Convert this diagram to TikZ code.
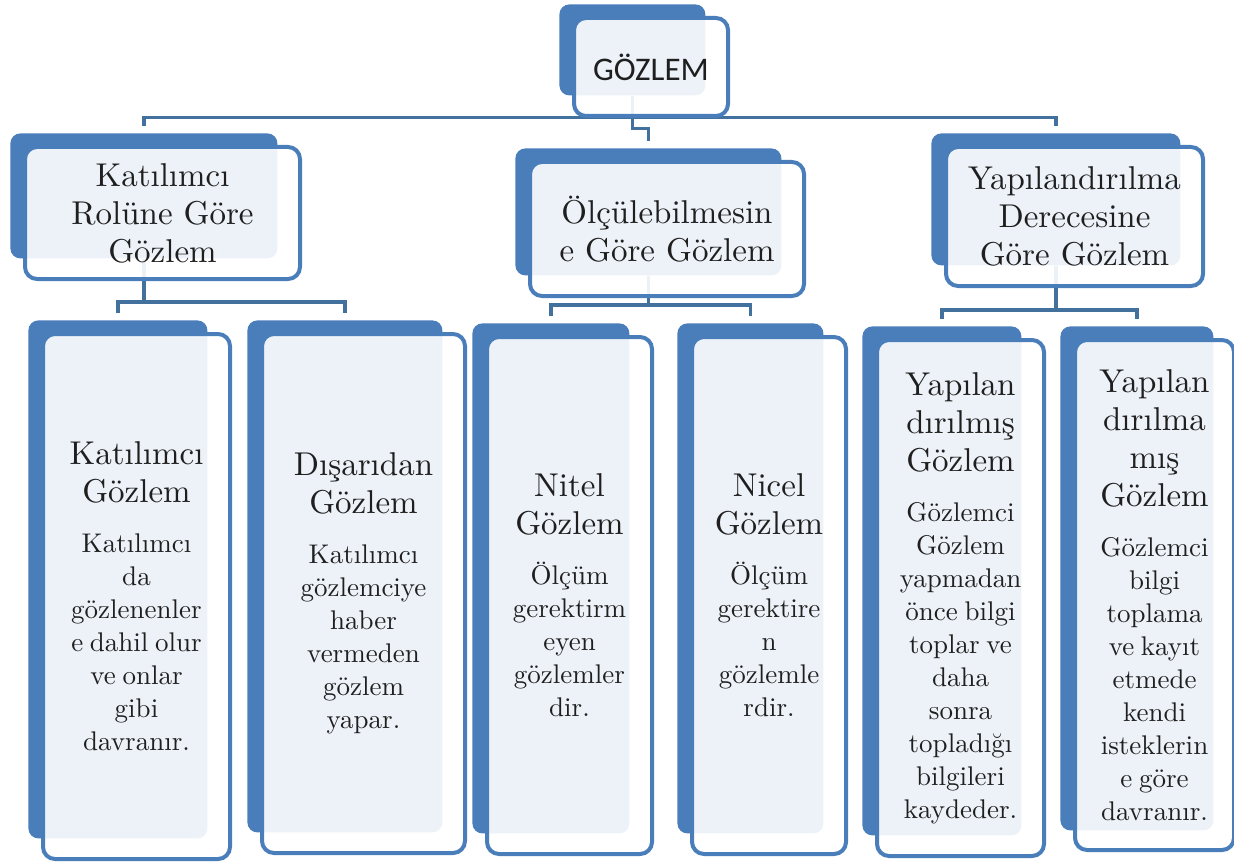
\documentclass[tikz,border=0pt]{standalone}
\usepackage{fontspec}
\setmainfont{lmroman10-regular}[Extension=.otf]
\newfontfamily\calibri{Carlito}
\usetikzlibrary{positioning, calc}
\definecolor{boxblue}{HTML}{4A7EBB}
\definecolor{linkblue}{HTML}{41719C}
\colorlet{ink}{black!88}
\pgfdeclarelayer{bg}
\pgfsetlayers{bg,main}
\tikzset{
  backbox/.style={fill=boxblue, rounded corners=5pt, inner sep=0pt, anchor=north west},
  frontbox/.style={draw=boxblue, line width=2pt, fill=white, fill opacity=0.9, text opacity=1,
    text=ink, rounded corners=6pt, inner sep=0pt, anchor=north west, align=center},
  link/.style={draw=linkblue, line width=1.7pt},
}
\newcommand{\gtitle}[1]{{\fontsize{16.5}{19}\selectfont #1\par}}
\newcommand{\gbody}[1]{\vspace{8.5pt}{\fontsize{13.5}{16.5}\selectfont #1\par}}

\begin{document}
\begin{tikzpicture}[x=0.5pt, y=-0.5pt]
  \useasboundingbox (0,0) rectangle (1234,866);

  % root
  \node[backbox, minimum width=73pt, minimum height=45.5pt] (top-b) at (559,4) {};
  \node[frontbox, minimum width=77pt, minimum height=49pt, font=\calibri\fontsize{16.5}{19}\selectfont]
    (top) at ([shift={(13,12)}]top-b.north west) {GÖZLEM};

  % second row
  \node[backbox, minimum width=133.5pt, minimum height=62.5pt] (kat-b) at (10,133) {};
  \node[frontbox, minimum width=137.5pt, minimum height=66pt, text width=131pt, font=\fontsize{16.5}{19}\selectfont]
    (kat) at ([shift={(13,12)}]kat-b.north west) {Katılımcı\\Rolüne Göre\\Gözlem};
  \node[backbox, minimum width=133pt, minimum height=63.5pt] (olc-b) at (515,148) {};
  \node[frontbox, minimum width=137pt, minimum height=67pt, text width=131pt, font=\fontsize{16.5}{19}\selectfont]
    (olc) at ([shift={(13,12)}]olc-b.north west) {Ölçülebilmesin\\e Göre Gözlem};
  \node[backbox, minimum width=124.5pt, minimum height=66pt] (yap-b) at (931,133) {};
  \node[frontbox, minimum width=128.5pt, minimum height=69.5pt, text width=125pt, font=\fontsize{16.5}{19}\selectfont]
    (yap) at ([shift={(13,12)}]yap-b.north west) {Yapılandırılma\\Derecesine\\Göre Gözlem};

  % third row
  \node[backbox, minimum width=89.5pt, minimum height=259pt] (katg-b) at (28,320) {};
  \node[frontbox, minimum width=93.5pt, minimum height=262.5pt, text width=88pt]
    (katg) at ([shift={(13,12)}]katg-b.north west)
    {\gtitle{Katılımcı\\Gözlem}\gbody{Katılımcı\\da\\gözlenenler\\e dahil olur\\ve onlar\\gibi\\davranır.}};
  \node[backbox, minimum width=97.5pt, minimum height=256pt] (disg-b) at (247,320) {};
  \node[frontbox, minimum width=101.5pt, minimum height=259.5pt, text width=96pt]
    (disg) at ([shift={(13,12)}]disg-b.north west)
    {\gtitle{Dışarıdan\\Gözlem}\gbody{Katılımcı\\gözlemciye\\haber\\vermeden\\gözlem\\yapar.}};
  \node[backbox, minimum width=78.5pt, minimum height=255pt] (nitg-b) at (472,323) {};
  \node[frontbox, minimum width=82.5pt, minimum height=258.5pt, text width=78pt]
    (nitg) at ([shift={(13,12)}]nitg-b.north west)
    {\gtitle{Nitel\\Gözlem}\gbody{Ölçüm\\gerektirm\\eyen\\gözlemler\\dir.}};
  \node[backbox, minimum width=73pt, minimum height=255pt] (nicg-b) at (677,323) {};
  \node[frontbox, minimum width=77pt, minimum height=258.5pt, text width=73pt]
    (nicg) at ([shift={(13,12)}]nicg-b.north west)
    {\gtitle{Nicel\\Gözlem}\gbody{Ölçüm\\gerektire\\n\\gözlemle\\rdir.}};
  \node[backbox, minimum width=79.5pt, minimum height=254.5pt] (ypmg-b) at (862,326) {};
  \node[frontbox, minimum width=83.5pt, minimum height=258pt, text width=79pt]
    (ypmg) at ([shift={(13,12)}]ypmg-b.north west)
    {\gtitle{Yapılan\\dırılmış\\Gözlem}\gbody{Gözlemci\\Gözlem\\yapmadan\\önce bilgi\\toplar ve\\daha\\sonra\\topladığı\\bilgileri\\kaydeder.}};
  \node[backbox, minimum width=76.5pt, minimum height=252pt] (ypmzg-b) at (1060,326) {};
  \node[frontbox, minimum width=79.5pt, minimum height=255pt, text width=75pt]
    (ypmzg) at ([shift={(13,12)}]ypmzg-b.north west)
    {\gtitle{Yapılan\\dırılma\\mış\\Gözlem}\gbody{Gözlemci\\bilgi\\toplama\\ve kayıt\\etmede\\kendi\\isteklerin\\e göre\\davranır.}};

  % connectors, behind the boxes
  \begin{pgfonlayer}{bg}
    \draw[link] (top-b.south) -- ++(0,22) coordinate (topbus);
    \draw[link, shorten <=3.5pt, shorten >=3.5pt] (kat-b.north) -- (kat-b.north |- topbus) -| (yap-b.north);
    \draw[link, shorten >=3.5pt] (topbus) -- ++(0,11) -| (olc-b.north);

    \draw[link, shorten <=3.5pt, shorten >=3.5pt] (katg-b.north) -- ++(0,-18) coordinate (katbus) -| (disg-b.north);
    \draw[link] (kat-b.south) -- (kat-b.south |- katbus);
    \draw[link, shorten <=3.5pt, shorten >=3.5pt] (nitg-b.north) -- ++(0,-18) coordinate (olcbus) -| (nicg-b.north);
    \draw[link] (olc-b.south) -- (olc-b.south |- olcbus);
    \draw[link, shorten <=3.5pt, shorten >=3.5pt] (ypmg-b.north) -- ++(0,-16) coordinate (yapbus) -| (ypmzg-b.north);
    \draw[link] (yap-b.south) -- (yap-b.south |- yapbus);
  \end{pgfonlayer}
\end{tikzpicture}
\end{document}
